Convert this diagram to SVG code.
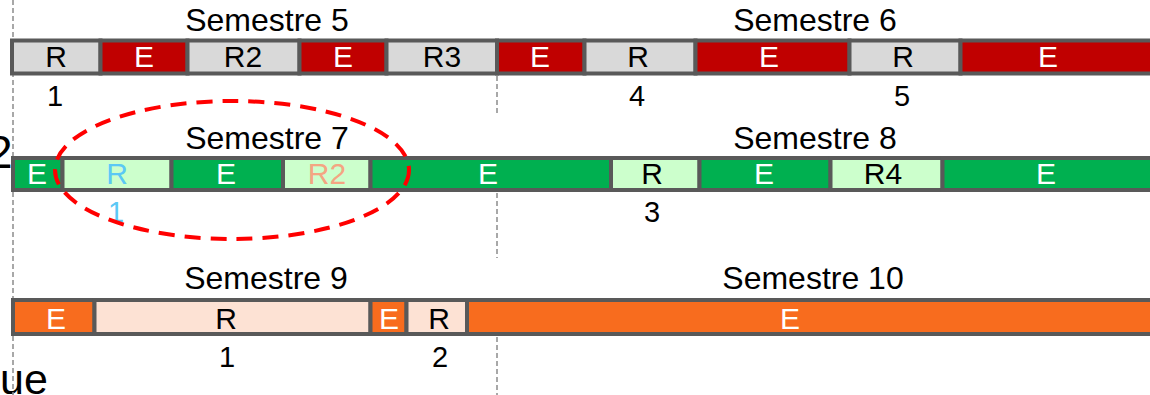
<svg xmlns="http://www.w3.org/2000/svg" width="1150" height="395" viewBox="0 0 1150 395">
  <style>
    text { font-family: "Liberation Sans", Arial, sans-serif; text-anchor: middle; }
    .sem { font-size: 32px; fill: #000; }
    .lbl { font-size: 30px; }
    .num { font-size: 29px; }
    .cell { stroke: #595959; stroke-width: 4; }
    .guide { stroke: #8c8c8c; stroke-width: 1.5; stroke-dasharray: 5 3; fill: none; }
    .e1 { fill: #C00000; }
    .r1 { fill: #D9D9D9; }
    .e2 { fill: #00B050; }
    .r2 { fill: #CCFFCC; }
    .e3 { fill: #F86C1E; }
    .r3 { fill: #FDE2D4; }
    .w { fill: #fff; }
    .k { fill: #000; }
    .blue { fill: #5BC8F5; }
    .salmon { fill: #F4A582; }
  </style>

  <rect width="1150" height="395" fill="#fff"/>

  <!-- stray captions at the left edge -->
  <text x="-13" y="168" style="font-size:46px;text-anchor:start" class="k">2</text>
  <text x="0" y="394" style="font-size:43px;text-anchor:start" class="k">ue</text>

  <!-- guide lines -->
  <g id="guides">
    <line class="guide" x1="13" y1="0" x2="13" y2="395"/>
    <line class="guide" x1="497" y1="76" x2="497" y2="114"/>
    <line class="guide" x1="497" y1="193" x2="497" y2="258"/>
    <line class="guide" x1="497" y1="337" x2="497" y2="395"/>
  </g>

  <!-- Semesters 5 and 6 -->
  <g id="row-s5-s6">
    <text class="sem" x="267" y="31">Semestre 5</text>
    <text class="sem" x="815" y="31">Semestre 6</text>
    <rect class="cell r1" x="12" y="40.5" width="88.5" height="33"/>
    <rect class="cell e1" x="100.5" y="40.5" width="87" height="33"/>
    <rect class="cell r1" x="187.5" y="40.5" width="112" height="33"/>
    <rect class="cell e1" x="299.5" y="40.5" width="87" height="33"/>
    <rect class="cell r1" x="386.5" y="40.5" width="110.5" height="33"/>
    <rect class="cell e1" x="497" y="40.5" width="87.5" height="33"/>
    <rect class="cell r1" x="584.5" y="40.5" width="111" height="33"/>
    <rect class="cell e1" x="695.5" y="40.5" width="154" height="33"/>
    <rect class="cell r1" x="849.5" y="40.5" width="111" height="33"/>
    <rect class="cell e1" x="960.5" y="40.5" width="195" height="33"/>
    <text class="lbl k" x="56" y="67">R</text>
    <text class="lbl w" x="144" y="67">E</text>
    <text class="lbl k" x="243" y="67">R2</text>
    <text class="lbl w" x="343" y="67">E</text>
    <text class="lbl k" x="442" y="67">R3</text>
    <text class="lbl w" x="540" y="67">E</text>
    <text class="lbl k" x="638" y="67">R</text>
    <text class="lbl w" x="769" y="67">E</text>
    <text class="lbl k" x="903" y="67">R</text>
    <text class="lbl w" x="1048" y="67">E</text>
    <text class="num k" x="55" y="106">1</text>
    <text class="num k" x="637" y="106">4</text>
    <text class="num k" x="902" y="106">5</text>
  </g>

  <!-- Semesters 7 and 8 -->
  <g id="row-s7-s8">
    <text class="sem" x="267" y="149">Semestre 7</text>
    <text class="sem" x="815" y="149">Semestre 8</text>
    <rect class="cell e2" x="13" y="158" width="49.5" height="32"/>
    <rect class="cell r2" x="62.5" y="158" width="109" height="32"/>
    <rect class="cell e2" x="171.5" y="158" width="111.5" height="32"/>
    <rect class="cell r2" x="283" y="158" width="87.5" height="32"/>
    <rect class="cell e2" x="370.5" y="158" width="240.5" height="32"/>
    <rect class="cell r2" x="611" y="158" width="88.5" height="32"/>
    <rect class="cell e2" x="699.5" y="158" width="131" height="32"/>
    <rect class="cell r2" x="830.5" y="158" width="112" height="32"/>
    <rect class="cell e2" x="942.5" y="158" width="213" height="32"/>
    <text class="lbl w" x="37" y="184">E</text>
    <text class="lbl blue" x="117" y="184">R</text>
    <text class="lbl w" x="226" y="184">E</text>
    <text class="lbl salmon" x="327" y="184">R2</text>
    <text class="lbl w" x="488" y="184">E</text>
    <text class="lbl k" x="652" y="184">R</text>
    <text class="lbl w" x="764" y="184">E</text>
    <text class="lbl k" x="883" y="184">R4</text>
    <text class="lbl w" x="1046" y="184">E</text>
    <text class="num blue" x="116" y="222">1</text>
    <text class="num k" x="652" y="222">3</text>
  </g>

  <!-- Semesters 9 and 10 -->
  <g id="row-s9-s10">
    <text class="sem" x="266" y="289">Semestre 9</text>
    <text class="sem" x="813" y="289">Semestre 10</text>
    <rect class="cell e3" x="13" y="300" width="81.5" height="34"/>
    <rect class="cell r3" x="94.5" y="300" width="276" height="34"/>
    <rect class="cell e3" x="370.5" y="300" width="36" height="34"/>
    <rect class="cell r3" x="406.5" y="300" width="60.5" height="34"/>
    <rect class="cell e3" x="467" y="300" width="688" height="34"/>
    <text class="lbl w" x="56" y="329">E</text>
    <text class="lbl k" x="226" y="329">R</text>
    <text class="lbl w" x="389" y="329">E</text>
    <text class="lbl k" x="439" y="329">R</text>
    <text class="lbl w" x="790" y="329">E</text>
    <text class="num k" x="227" y="367">1</text>
    <text class="num k" x="440" y="367">2</text>
  </g>

  <!-- highlight around the first part of semester 7 -->
  <g id="highlight">
    <ellipse cx="232" cy="170" rx="177" ry="69" fill="none" stroke="#FF0000" stroke-width="4" stroke-dasharray="16 10"/>
  </g>
</svg>
